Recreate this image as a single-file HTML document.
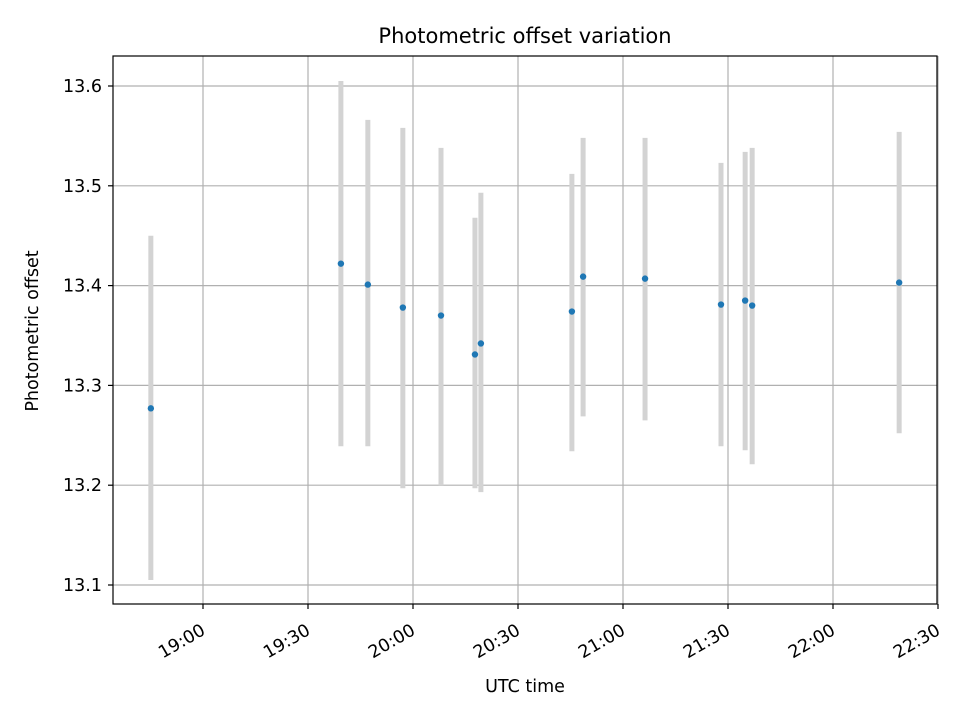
<!DOCTYPE html>
<html><head><meta charset="utf-8"><style>
body{margin:0;background:#fff;}
svg text{font-family:"DejaVu Sans","Liberation Sans",sans-serif;fill:#000;}
</style></head><body>
<svg id="chart" width="960" height="720" xmlns="http://www.w3.org/2000/svg">
<rect width="960" height="720" fill="#fff"/>
<g id="grid"></g>
<g id="bars"></g>
<g id="pts"></g>
<rect x="113" y="56" width="824" height="548" fill="none" stroke="#000" stroke-width="1.2"/>
<g id="axes"></g>
<text x="525" y="43" style="font-size:21px" text-anchor="middle">Photometric offset variation</text>
<text x="525" y="692" style="font-size:17.5px" text-anchor="middle">UTC time</text>
<text x="38" y="331" style="font-size:17.5px" text-anchor="middle" transform="rotate(-90 38 331)">Photometric offset</text>
</svg>
<script>
// times in minutes after 18:00
const times=[45.1,99.4,107.1,117.1,128.0,137.7,139.4,165.4,168.6,186.3,208.0,214.9,216.9,258.9];
const values=[13.277,13.422,13.401,13.378,13.370,13.331,13.342,13.374,13.409,13.407,13.381,13.385,13.380,13.403];
const upper=[13.450,13.605,13.566,13.558,13.538,13.468,13.493,13.512,13.548,13.548,13.523,13.534,13.538,13.554];
const lower=[13.105,13.239,13.239,13.197,13.200,13.197,13.193,13.234,13.269,13.265,13.239,13.235,13.221,13.252];
const xTicks=[60,90,120,150,180,210,240,270];
const xTickLabels=["19:00","19:30","20:00","20:30","21:00","21:30","22:00","22:30"];
const yTicks=[13.1,13.2,13.3,13.4,13.5,13.6];
const yTickLabels=["13.1","13.2","13.3","13.4","13.5","13.6"];
const NS="http://www.w3.org/2000/svg";
const X=t=>203+(t-60)*3.5;
const Y=v=>585-(v-13.1)*998;
function mk(tag,attrs,parent){const e=document.createElementNS(NS,tag);for(const k in attrs)e.setAttribute(k,attrs[k]);parent.appendChild(e);return e;}
const grid=document.getElementById('grid'),axes=document.getElementById('axes'),bars=document.getElementById('bars'),pts=document.getElementById('pts');
xTicks.forEach((t,i)=>{const x=X(t);
 const g=mk('line',{x1:x,x2:x,y1:56,y2:604,stroke:'#b0b0b0','stroke-width':1.2},grid);
 
 
 const tk=mk('line',{x1:x,x2:x,y1:604,y2:609,stroke:'#000','stroke-width':1.2},axes);
 
 
 const ax=x-1, ay=626;
 const tx=mk('text',{x:ax,y:ay,style:'font-size:17.5px','text-anchor':'end',transform:`rotate(-30 ${ax} ${ay})`,dy:'0.5em'},axes);
 tx.textContent=xTickLabels[i];
 
 
});
yTicks.forEach((v,i)=>{const y=Y(v);
 const g=mk('line',{x1:113,x2:937,y1:y,y2:y,stroke:'#b0b0b0','stroke-width':1.2},grid);
 
 
 const tk=mk('line',{x1:108,x2:113,y1:y,y2:y,stroke:'#000','stroke-width':1.2},axes);
 
 
 const tx=mk('text',{x:102,y:y+6,style:'font-size:17.5px','text-anchor':'end'},axes);
 tx.textContent=yTickLabels[i];
 
 
});
times.forEach((t,i)=>{const x=X(t);
 const b=mk('line',{x1:x,x2:x,y1:Y(upper[i]),y2:Y(lower[i]),stroke:'#d3d3d3','stroke-width':5},bars);
 
 
 const c=mk('circle',{cx:x,cy:Y(values[i]),r:3.2,fill:'#1f77b4'},pts);
 
 
});
</script>
</body></html>
